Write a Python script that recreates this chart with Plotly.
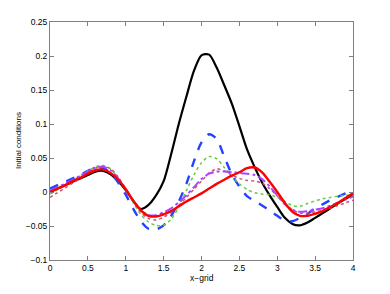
import plotly.graph_objects as go

x_grid = [round(0.1 * i, 1) for i in range(41)]

black_solid = [0.000, 0.005, 0.010, 0.015, 0.020, 0.025, 0.030, 0.031, 0.026, 0.016,
               0.003, -0.013, -0.025, -0.019, -0.005, 0.016, 0.056, 0.100, 0.140, 0.178,
               0.201, 0.202, 0.183, 0.157, 0.130, 0.097, 0.063, 0.037, 0.014, -0.005,
               -0.022, -0.038, -0.047, -0.049, -0.045, -0.038, -0.031, -0.024, -0.017, -0.010,
               -0.004]
blue_dashed = [0.005, 0.010, 0.015, 0.020, 0.025, 0.031, 0.035, 0.035, 0.028, 0.014,
               -0.004, -0.025, -0.043, -0.054, -0.055, -0.049, -0.035, -0.014, 0.012, 0.045,
               0.073, 0.085, 0.078, 0.052, 0.026, 0.008, -0.006, -0.013, -0.020, -0.027,
               -0.035, -0.042, -0.043, -0.038, -0.032, -0.024, -0.018, -0.012, -0.007, -0.002,
               0.003]
green_dotted = [-0.003, 0.003, 0.010, 0.017, 0.024, 0.031, 0.037, 0.039, 0.034, 0.020,
                0.003, -0.016, -0.033, -0.044, -0.049, -0.049, -0.040, -0.022, 0.002, 0.025,
                0.043, 0.052, 0.049, 0.036, 0.023, 0.012, 0.004, -0.001, -0.003, -0.004,
                -0.008, -0.014, -0.020, -0.021, -0.017, -0.013, -0.010, -0.008, -0.006, -0.005,
                -0.005]
pink_dotted = [-0.008, -0.001, 0.006, 0.013, 0.020, 0.028, 0.035, 0.038, 0.034, 0.022,
               0.005, -0.014, -0.030, -0.039, -0.041, -0.037, -0.030, -0.020, -0.008, 0.004,
               0.016, 0.028, 0.034, 0.031, 0.025, 0.020, 0.017, 0.016, 0.013, 0.005,
               -0.006, -0.017, -0.026, -0.031, -0.031, -0.029, -0.027, -0.024, -0.020, -0.016,
               -0.012]
purple_dashdot = [0.002, 0.007, 0.012, 0.018, 0.024, 0.030, 0.036, 0.037, 0.032, 0.020,
                  0.004, -0.013, -0.027, -0.034, -0.034, -0.030, -0.024, -0.015, -0.005, 0.007,
                  0.019, 0.027, 0.030, 0.030, 0.029, 0.028, 0.027, 0.025, 0.019, 0.008,
                  -0.005, -0.018, -0.026, -0.029, -0.028, -0.026, -0.024, -0.020, -0.016, -0.011,
                  -0.007]
red_solid = [0.000, 0.005, 0.010, 0.016, 0.021, 0.027, 0.032, 0.033, 0.028, 0.018,
             0.004, -0.013, -0.027, -0.035, -0.036, -0.033, -0.028, -0.021, -0.014, -0.008,
             -0.002, 0.005, 0.012, 0.018, 0.024, 0.029, 0.035, 0.036, 0.029, 0.015,
             0.000, -0.016, -0.029, -0.035, -0.035, -0.032, -0.028, -0.022, -0.016, -0.009,
             -0.002]

x_title = "x\u2212grid"
y_title = "Initial conditions"

series = [
    ("black", black_solid, "#000000", "solid", 2.2),
    ("blue", blue_dashed, "#2244ff", "dash", 2.4),
    ("green", green_dotted, "#66cc44", "dot", 1.5),
    ("pink", pink_dotted, "#cc5577", "dot", 1.5),
    ("purple", purple_dashdot, "#aa44ff", "dashdot", 2.0),
    ("red", red_solid, "#ff0000", "solid", 2.4),
]

fig = go.Figure()
for name, ys, color, dash, w in series:
    fig.add_trace(go.Scatter(x=x_grid, y=ys, mode="lines", name=name,
                             line=dict(color=color, dash=dash, width=w, shape="spline", smoothing=0.8)))

axis_common = dict(showline=True, linecolor="#808080", linewidth=1, mirror="ticks",
                   ticks="inside", ticklen=4, tickcolor="#808080", showgrid=False,
                   zeroline=False, automargin=False, tickfont=dict(size=8.5, color="#000000"))

fig.update_layout(
    width=382, height=286,
    margin=dict(l=42, r=37, t=14, b=34),
    paper_bgcolor="white", plot_bgcolor="white",
    showlegend=False,
    font=dict(family="Liberation Sans, Arial, sans-serif", size=8.5, color="#000000"),
    xaxis=dict(range=[0, 4], dtick=0.5, tick0=0, **axis_common),
    yaxis=dict(range=[-0.1, 0.25], dtick=0.05, tick0=0, **axis_common),
    annotations=[
        dict(text=x_title, xref="paper", yref="paper", x=0.5, y=0, xanchor="center",
             yanchor="middle", yshift=-18, showarrow=False, font=dict(size=8.5)),
        dict(text=y_title, xref="paper", yref="paper", x=0, y=0.5, xanchor="center",
             yanchor="middle", xshift=-32, textangle=-90, showarrow=False, font=dict(size=8)),
    ],
)

fig.write_html("out.html")
